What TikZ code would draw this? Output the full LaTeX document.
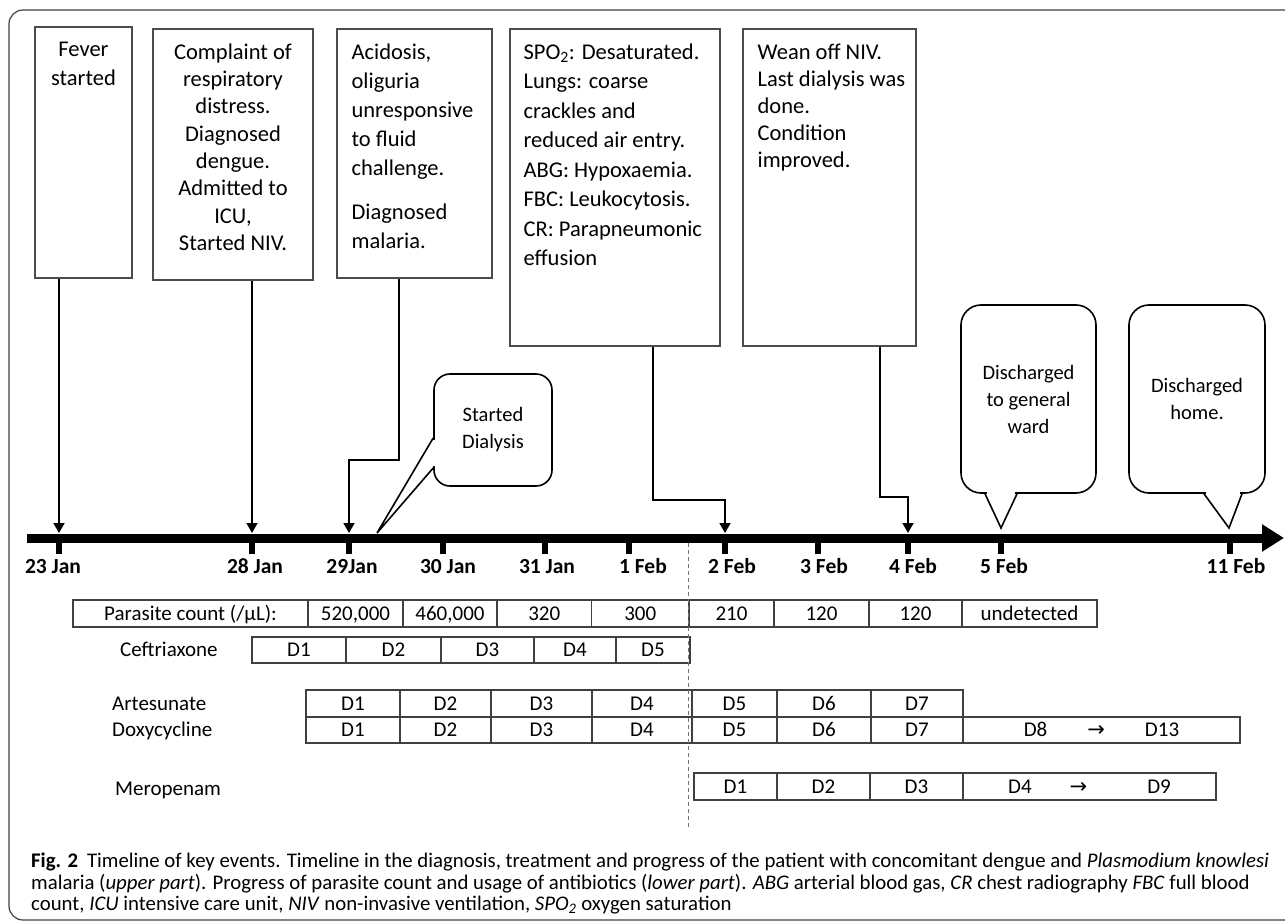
\documentclass[tikz,border=0pt]{standalone}
\usepackage{fontspec}
\setmainfont{Carlito}
\newfontfamily\arrowfont{DejaVu Sans}
\usetikzlibrary{positioning,arrows.meta}

\tikzset{
	evbox/.style={draw=black!70, line width=1.2pt, inner sep=0pt},
	evtext/.style={inner sep=0pt, font=\fontsize{22.5}{28}\selectfont},
	bubble/.style={draw, line width=1.6pt, rounded corners=16pt, inner sep=0pt, align=center, font=\fontsize{20.5}{27}\selectfont},
	conn/.style={line width=1.8pt, -{Triangle[length=10pt,width=11pt]}},
	cell/.style={draw=black!75, line width=1.1pt, inner sep=0pt, text height=13.5pt, text depth=0pt, font=\fontsize{21}{24}\selectfont},
	drug/.style={inner sep=0pt, anchor=west, text height=13.5pt, text depth=0pt, font=\fontsize{21}{24}\selectfont},
	datelbl/.style={inner sep=0pt, anchor=base, font=\fontsize{21.5}{24}\selectfont\bfseries},
}

\begin{document}
\begin{tikzpicture}[x=1pt, y=-1pt]
	\useasboundingbox (0,0) rectangle (1285,923);
	\clip (0,0) rectangle (1285,923);
	\draw[black!75, line width=1.2pt, rounded corners=14pt] (9,10) rectangle (1300,920);

	% events above the time line
	\node (fever)	at (83.5,152.5) [evbox, minimum width=97pt, minimum height=251pt] {};
	\node (compl)	at (233,154.5) [evbox, minimum width=160pt, minimum height=251pt] {};
	\node (acid)	at (414.5,153.5) [evbox, minimum width=155pt, minimum height=249pt] {};
	\node (spo)		at (615,187.5) [evbox, minimum width=210pt, minimum height=317pt] {};
	\node (wean)	at (829.5,187.5) [evbox, minimum width=173pt, minimum height=317pt] {};

	\node (fevert) [evtext, align=center, below=15pt of fever.north, font=\fontsize{22.5}{29}\selectfont] {Fever\\started};
	\node (complt) [evtext, align=center, below=15pt of compl.north, font=\fontsize{22.5}{27.3}\selectfont]
		{Complaint of\\respiratory\\distress.\\Diagnosed\\dengue.\\Admitted to\\ICU,\\Started NIV.};
	\node (acidt) [evtext, align=left, below right=15pt and 15pt of acid.north west, font=\fontsize{22.5}{29}\selectfont]
		{Acidosis,\\oliguria\\unresponsive\\to fluid\\challenge.\\[15pt]Diagnosed\\malaria.};
	\node (spot) [evtext, align=left, below right=15pt and 14pt of spo.north west, font=\fontsize{22.5}{29.5}\selectfont]
		{SPO\textsubscript{2}: Desaturated.\\Lungs: coarse\\crackles and\\reduced air entry.\\ABG: Hypoxaemia.\\FBC: Leukocytosis.\\CR: Parapneumonic\\effusion};
	\node (weant) [evtext, align=left, below right=15pt and 15pt of wean.north west, font=\fontsize{22.5}{27}\selectfont]
		{Wean off NIV.\\Last dialysis was\\done.\\Condition\\improved.};

	\node (dial) at (493,430) [bubble, minimum width=118pt, minimum height=112pt] {Started\\Dialysis};
	\node (ward) at (1028.5,399) [bubble, minimum width=135pt, minimum height=188pt, rounded corners=20pt] {Discharged\\to general\\ward};
	\node (home) at (1197,399) [bubble, minimum width=136pt, minimum height=188pt, rounded corners=20pt] {Discharged\\home.};

	% time line
	\coordinate (axl) at (27,538);
	\coordinate (axr) at (1284,538);
	\coordinate (a23) at (59,533);
	\coordinate (a28) at (252,533);
	\coordinate (a29) at (349,533);
	\coordinate (a2f) at (725,533);
	\coordinate (a4f) at (908,533);
	\coordinate (tdial) at (377,533);
	\coordinate (tward) at (1001,528);
	\coordinate (thome) at (1229,528);

	\draw[line width=9pt, -{Triangle[length=22pt,width=26pt]}] (axl) -- (axr);
	\foreach \x in {59,252,349,443,545,629,725,818,908,1001,1230}
		\draw[line width=5.5pt] (\x,541) -- (\x,554);
	\foreach \x/\d [count=\i] in {53/23 Jan, 255/28 Jan, 352/29Jan, 448/30 Jan, 547/31 Jan, 643/1 Feb, 732/2 Feb, 824/3 Feb, 913/4 Feb, 1004/5 Feb, 1236/11 Feb}
		\node (d\i) at (\x,573.5) [datelbl] {\d};

	\draw[conn] (fever.south -| a23) -- (a23);
	\draw[conn] (compl.south -| a28) -- (a28);
	\draw[conn] (acid.south -| 399,0) -- ++(0,181) -| (a29);
	\draw[conn] (spo.south -| 653,0) -- ++(0,153) -| (a2f);
	\draw[conn] (wean.south -| 880,0) -- ++(0,150) -| (a4f);

	% callout pointers
	\fill[white] (431,440) rectangle (437,466);
	\draw[line width=1.6pt] (dial.west |- 0,438) -- (tdial) -- (dial.west |- 0,468);
	\fill[white] (987,489) rectangle (1015,497);
	\draw[line width=1.6pt] (ward.south -| 985,0) -- (tward) -- (ward.south -| 1017,0);
	\fill[white] (1206,489) rectangle (1240,497);
	\draw[line width=1.6pt] (home.south -| 1204,0) -- (thome) -- (home.south -| 1242,0);

	% parasite count and drugs
	\foreach \l/\r/\t [count=\i] in {73/308/{Parasite count (/µL):}, 308/403/{520,000}, 403/497/{460,000}, 497/591.5/320, 591.5/689/300, 689/774/210, 774/869/120, 869/962/120, 962/1097/undetected}
		\node (pc\i) at ({(\l+\r)/2},613.5) [cell, minimum width={(\r-\l)*1pt}, minimum height=27pt] {\t};

	\node (cef) at (120,650) [drug] {Ceftriaxone};
	\foreach \l/\r/\t [count=\i] in {252/346/D1, 346/441/D2, 441/534/D3, 534/616/D4, 616/690/D5}
		\node (cef\i) at ({(\l+\r)/2},650) [cell, minimum width={(\r-\l)*1pt}, minimum height=26pt] {\t};

	\node (art) at (112,703.5) [drug] {Artesunate};
	\foreach \l/\r/\t [count=\i] in {306/400/D1, 400/491/D2, 491/592/D3, 592/692/D4, 692/777/D5, 777/871/D6, 871/963/D7}
		\node (art\i) at ({(\l+\r)/2},703.5) [cell, minimum width={(\r-\l)*1pt}, minimum height=27pt] {\t};

	\node (dox) at (112,730) [drug] {Doxycycline};
	\foreach \l/\r/\t [count=\i] in {306/400/D1, 400/491/D2, 491/592/D3, 592/692/D4, 692/777/D5, 777/871/D6, 871/963/D7}
		\node (dox\i) at ({(\l+\r)/2},730) [cell, minimum width={(\r-\l)*1pt}, minimum height=26pt] {\t};
	\node (dox8) at (1101.5,730) [cell, minimum width=277pt, minimum height=26pt]
		{D8\hspace{40pt}{\arrowfont →}\hspace{40pt}D13\hspace{22pt}};

	\node (mer) at (115,789) [drug] {Meropenam};
	\foreach \l/\r/\t [count=\i] in {694/777/D1, 777/870/D2, 870/963/D3}
		\node (mer\i) at ({(\l+\r)/2},786.5) [cell, minimum width={(\r-\l)*1pt}, minimum height=27pt] {\t};
	\node (mer4) at (1089.5,786.5) [cell, minimum width=253pt, minimum height=27pt]
		{D4\hspace{38pt}{\arrowfont →}\hspace{60pt}D9\hspace{49pt}};

	\coordinate (dtop) at (688,543);
	\coordinate (dbot) at (688,830);
	\draw[black!55, line width=0.8pt, dash pattern=on 4pt off 3pt] (dtop) -- (dbot);

	% caption
	\node (cap) at (31,853) [anchor=north west, inner sep=0pt, align=left, font=\fontsize{20.8}{21.5}\selectfont]
		{\textbf{Fig. 2}\hspace{9pt}Timeline of key events. Timeline in the diagnosis, treatment and progress of the patient with concomitant dengue and \textit{Plasmodium knowlesi}\\
		malaria (\textit{upper part}). Progress of parasite count and usage of antibiotics (\textit{lower part}). \textit{ABG} arterial blood gas, \textit{CR} chest radiography \textit{FBC} full blood\\
		count, \textit{ICU} intensive care unit, \textit{NIV} non-invasive ventilation, \textit{SPO\textsubscript{2}} oxygen saturation};
\end{tikzpicture}
\end{document}
